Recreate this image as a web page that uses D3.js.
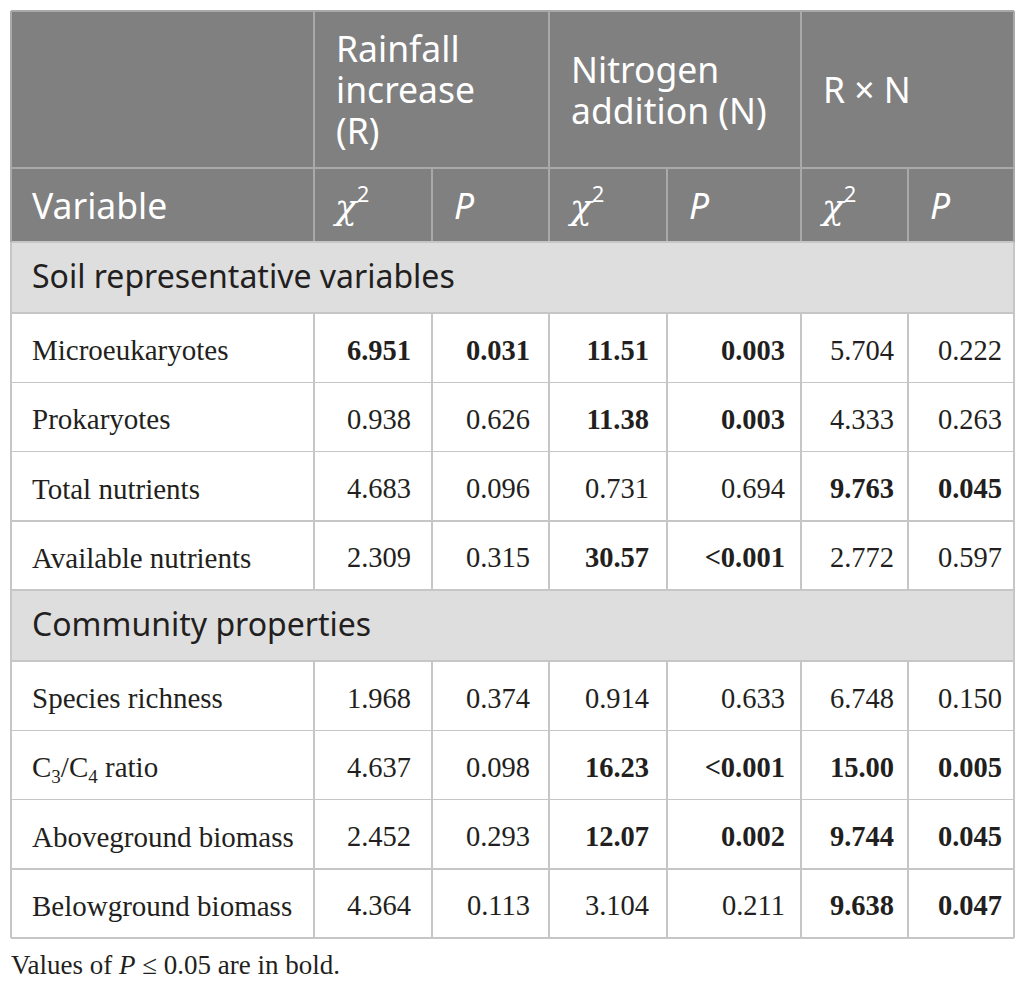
<!DOCTYPE html>
<html><head><meta charset="utf-8">
<script src="https://cdn.jsdelivr.net/npm/d3@7"></script>
<style>body{margin:0;background:#fff}</style></head>
<body><svg id="c" width="1025" height="986"></svg>
<script>
// ---- data ----
const factors = [["Rainfall","increase","(R)"],["Nitrogen","addition (N)"],["R × N"]];
const variableHeader = "Variable";
const sections = ["Soil representative variables","Community properties"];
const soilVariables = ["Microeukaryotes","Prokaryotes","Total nutrients","Available nutrients"];
const soilValues = [
  ["6.951","0.031","11.51","0.003","5.704","0.222"],
  ["0.938","0.626","11.38","0.003","4.333","0.263"],
  ["4.683","0.096","0.731","0.694","9.763","0.045"],
  ["2.309","0.315","30.57","<0.001","2.772","0.597"]
];
const communityVariables = ["Species richness","C3/C4 ratio","Aboveground biomass","Belowground biomass"];
const communityValues = [
  ["1.968","0.374","0.914","0.633","6.748","0.150"],
  ["4.637","0.098","16.23","<0.001","15.00","0.005"],
  ["2.452","0.293","12.07","0.002","9.744","0.045"],
  ["4.364","0.113","3.104","0.211","9.638","0.047"]
];
const alpha = 0.05;

// ---- layout ----
const svg = d3.select("#c");
const X0 = 11, Y0 = 11;
const colW = [303,118,117,118,134,107,106];
const colX = [X0, ...d3.cumsum(colW).map(v => X0 + v)];
const rightPad = [0,21,19,18,16,14,12];
const H = {h1:157, h2:74, sec:71, row:69.25};
const SANS = "'Noto Sans', sans-serif", SERIF = "'Liberation Serif', 'Times New Roman', serif";
const TXT = "#231f20";

const rows = [{type:"h1"},{type:"h2"}];
[[sections[0], soilVariables, soilValues],[sections[1], communityVariables, communityValues]].forEach(([s, vars, vals]) => {
  rows.push({type:"sec", label:s});
  vars.forEach((v,i) => rows.push({type:"row", label:v, values:vals[i]}));
});
let yy = Y0;
rows.forEach(r => { r.y = yy; r.h = H[r.type]; yy += r.h; });
const Y1 = yy;
const X1 = colX[colX.length-1];

// backgrounds
const g = svg.append("g");
g.selectAll("rect.bg").data(rows).join("rect")
  .attr("x", X0).attr("y", d => d.y).attr("width", X1 - X0).attr("height", d => d.h)
  .attr("fill", d => d.type === "sec" ? "#dedede" : (d.type === "row" ? "#fff" : "#808080"));

// grid lines
const lines = [];
const hdrLine = "#a9a9a9", bodyLine = "#c6c6c6";
rows.forEach((r, i) => {
  if (i > 0) lines.push({x1:X0, x2:X1, y1:r.y, y2:r.y, c: r.type === "h2" ? hdrLine : bodyLine});
  if (r.type === "h1") {
    [1,3,5].forEach(ci => lines.push({x1:colX[ci], x2:colX[ci], y1:r.y, y2:r.y + r.h, c:hdrLine}));
  } else if (r.type === "h2") {
    [1,2,3,4,5,6].forEach(ci => lines.push({x1:colX[ci], x2:colX[ci], y1:r.y, y2:r.y + r.h, c:hdrLine}));
  } else if (r.type === "row") {
    [1,2,3,4,5,6].forEach(ci => lines.push({x1:colX[ci], x2:colX[ci], y1:r.y, y2:r.y + r.h, c:bodyLine}));
  }
});
lines.push({x1:X0, x2:X1, y1:Y1, y2:Y1, c:bodyLine});
lines.push({x1:X0, x2:X0, y1:rows[2].y, y2:Y1, c:bodyLine});
lines.push({x1:X1, x2:X1, y1:rows[2].y, y2:Y1, c:bodyLine});
lines.push({x1:X0, x2:X0, y1:Y0, y2:rows[2].y, c:hdrLine});
lines.push({x1:X0, x2:X1, y1:Y0, y2:Y0, c:hdrLine});
lines.push({x1:X1, x2:X1, y1:Y0, y2:rows[2].y, c:hdrLine});
g.selectAll("line").data(lines).join("line")
  .attr("x1", d => d.x1).attr("x2", d => d.x2).attr("y1", d => d.y1).attr("y2", d => d.y2)
  .attr("stroke", d => d.c).attr("stroke-width", 1.5).attr("shape-rendering","crispEdges");

// header row 1 (each line its own text element)
const h1 = rows[0];
const lh = 41;
factors.forEach((lns, fi) => {
  const x = colX[1 + fi*2] + 22;
  const base = h1.y + h1.h/2 + 13.5 - (lns.length - 1) * lh / 2;
  lns.forEach((l, li) => svg.append("text").attr("x", x).attr("y", base + li*lh)
    .attr("font-family", SANS).attr("font-size", 35.5).attr("fill", "#fff").text(l));
});

// header row 2
const h2 = rows[1];
const b2 = h2.y + 51;
svg.append("text").attr("x", 32).attr("y", b2).attr("font-family", SANS).attr("font-size", 35.5).attr("fill","#fff").text(variableHeader);
[0,1,2].forEach(fi => {
  const xc = colX[1 + fi*2] + 21;
  const tc = svg.append("text").attr("x", xc).attr("y", b2).attr("fill","#fff");
  tc.append("tspan").attr("font-family", "'DejaVu Serif', serif").attr("font-style","italic").attr("font-size", 36).text("χ");
  tc.append("tspan").attr("font-family", SANS).attr("font-size", 22).attr("dx", 0).attr("dy", -17).text("2");
  svg.append("text").attr("x", colX[2 + fi*2] + 22).attr("y", b2).attr("font-family", SANS)
    .attr("font-style","italic").attr("font-size", 35.5).attr("fill","#fff").text("P");
});

// sections
svg.selectAll("text.sec").data(rows.filter(r => r.type === "sec")).join("text")
  .attr("class","sec").attr("x", 32).attr("y", d => d.y + 46)
  .attr("font-family", SANS).attr("font-size", 32).attr("fill", TXT).text(d => d.label);

// data rows
const pNum = s => +String(s).replace("<","");
const dataRows = rows.filter(r => r.type === "row");
dataRows.forEach(r => {
  const lt = svg.append("text").attr("x", 32).attr("y", r.y + 47).attr("font-family", SERIF)
    .attr("font-size", 29).attr("fill", TXT);
  const parts = r.label.split(/(\d)/).filter(s => s.length);
  let prevSub = false;
  parts.forEach(p => {
    if (/^\d$/.test(p)) { lt.append("tspan").attr("font-size", 19).attr("dy", 6).text(p); prevSub = true; }
    else { lt.append("tspan").attr("dy", prevSub ? -6 : 0).text(p); prevSub = false; }
  });
  r.values.forEach((v, vi) => {
    const fi = Math.floor(vi / 2);
    const bold = pNum(r.values[fi*2 + 1]) <= alpha;
    svg.append("text").attr("x", colX[vi + 2] - rightPad[vi + 1]).attr("y", r.y + 46.5)
      .attr("text-anchor","end").attr("font-family", SERIF).attr("font-size", 28.5)
      .attr("font-weight", bold ? "bold" : "normal").attr("fill", TXT).text(v);
  });
});

// footnote
const fn = svg.append("text").attr("x", 11).attr("y", Y1 + 36).attr("font-family", SERIF).attr("font-size", 27).attr("fill", TXT);
fn.append("tspan").text("Values of ");
fn.append("tspan").attr("font-style","italic").text("P");
fn.append("tspan").text(" ≤ " + alpha.toFixed(2) + " are in bold.");
</script>
</body></html>
